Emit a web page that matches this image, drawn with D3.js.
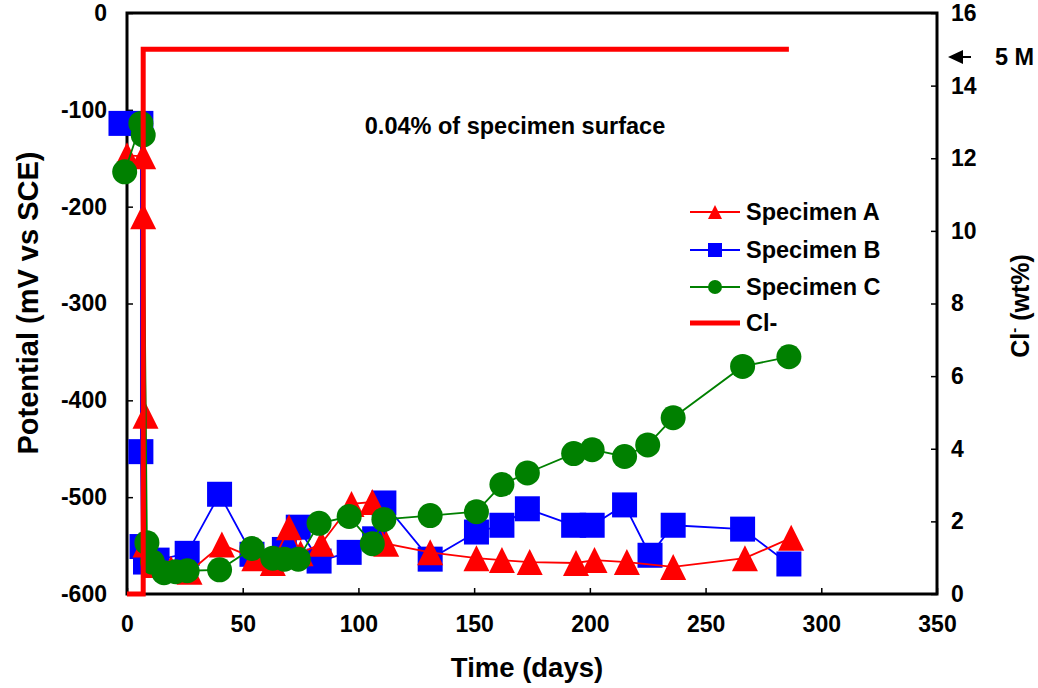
<!DOCTYPE html>
<html>
<head>
<meta charset="utf-8">
<script src="https://cdn.jsdelivr.net/npm/d3@7"></script>
<style>
  body { margin: 0; background: #fff; }
  text { font-family: "Liberation Sans", Arial, sans-serif; font-weight: bold; fill: #000; }
</style>
</head>
<body>
<svg id="chart" width="1038" height="688"></svg>
<script>
// Specimen A (red triangles)
const daysA = [0, 7, 7, 8, 8, 12, 19, 27, 41, 55, 63, 70, 75, 84, 97, 106, 112, 131, 151, 162, 174, 194, 202, 216, 236, 267, 287];
const potA = [-147, -148, -210, -416, -549, -570, -574, -577, -549, -563, -568, -531, -558, -548, -507, -505, -548, -557, -563, -565, -567, -568, -565, -567, -572, -563, -542];

// Specimen B (blue squares)
const daysB = [-2.6, 6, 6, 6.5, 8, 13, 26, 40, 54, 68, 74, 83, 96, 107, 111, 131, 151, 162, 173, 193, 201, 215, 226, 236, 266, 286];
const potB = [-114, -114, -453, -551, -567, -565, -558, -497, -559, -554, -531, -566, -557, -543, -506, -564, -536, -529, -512, -529, -529, -508, -560, -529, -533, -569];

// Specimen C (green circles)
const daysC = [-1, 6, 7, 8.6, 11, 16, 21, 26, 40, 54, 63, 68, 74, 83, 96, 106, 111, 131, 151, 162, 173, 193, 201, 215, 225, 236, 266, 286];
const potC = [-164, -114, -126, -547, -567, -578, -577, -576, -575, -553, -563, -564, -564, -527, -520, -548, -523, -519, -515, -487, -475, -455, -451, -458, -446, -418, -365, -355];

// chloride (right axis)
const clDays = [0, 7, 7, 286];
const clWt = [0, 0, 15, 15];

const xTicks = [0, 50, 100, 150, 200, 250, 300, 350];
const yLeftTicks = [-600, -500, -400, -300, -200, -100, 0];
const yRightTicks = [0, 2, 4, 6, 8, 10, 12, 14, 16];

const svg = d3.select("#chart");
const plotL = 127, plotR = 937, plotT = 13, plotB = 594;

const x = d3.scaleLinear().domain([0, 350]).range([plotL, plotR]);
const yL = d3.scaleLinear().domain([-600, 0]).range([plotB, plotT]);
const yR = d3.scaleLinear().domain([0, 16]).range([plotB, plotT]);

const plain = d => String(d); // hyphen minus, like the original

// axes, ticks pointing inward
const gx = svg.append("g")
  .attr("transform", "translate(0," + plotB + ")")
  .call(d3.axisBottom(x).tickValues(xTicks).tickFormat(plain).tickSize(-6).tickPadding(22).tickSizeOuter(0));
const gl = svg.append("g")
  .attr("transform", "translate(" + plotL + ",0)")
  .call(d3.axisLeft(yL).tickValues(yLeftTicks).tickFormat(plain).tickSize(-6).tickPadding(20).tickSizeOuter(0));
const gr = svg.append("g")
  .attr("transform", "translate(" + plotR + ",0)")
  .call(d3.axisRight(yR).tickValues(yRightTicks).tickFormat(plain).tickSize(-6).tickPadding(14).tickSizeOuter(0));

[gx, gl, gr].forEach(g => {
  g.select(".domain").remove();
  g.selectAll(".tick line").attr("stroke", "#000").attr("stroke-width", 1.5);
  g.selectAll(".tick text").attr("font-size", 23).attr("font-family", null);
});

// frame
svg.append("rect")
  .attr("x", plotL).attr("y", plotT)
  .attr("width", plotR - plotL).attr("height", plotB - plotT)
  .attr("fill", "none").attr("stroke", "#000").attr("stroke-width", 3);

// marker shapes
function marker(sel, kind, s, color) {
  if (kind === "tri") {
    sel.append("path")
      .attr("d", `M0,${-s / 2}L${s / 2},${s / 2}L${-s / 2},${s / 2}Z`)
      .attr("fill", color);
  } else if (kind === "sq") {
    sel.append("rect")
      .attr("x", -s / 2).attr("y", -s / 2).attr("width", s).attr("height", s)
      .attr("fill", color);
  } else {
    sel.append("circle").attr("r", s / 2).attr("fill", color);
  }
}

function series(days, vals, color, kind, size) {
  const pts = days.map((d, i) => [d, vals[i]]);
  const line = d3.line().x(d => x(d[0])).y(d => yL(d[1]));
  svg.append("path")
    .datum(pts)
    .attr("d", line)
    .attr("fill", "none")
    .attr("stroke", color)
    .attr("stroke-width", 1.8);
  svg.append("g").selectAll("g")
    .data(pts)
    .join("g")
    .attr("transform", d => `translate(${x(d[0])},${yL(d[1])})`)
    .each(function () { marker(d3.select(this), kind, size, color); });
}

series(daysB, potB, "#0000ff", "sq", 25);
series(daysA, potA, "#ff0000", "tri", 26);
series(daysC, potC, "#008000", "ci", 25);

// chloride line
svg.append("path")
  .datum(clDays.map((d, i) => [d, clWt[i]]))
  .attr("d", d3.line().x(d => x(d[0])).y(d => yR(d[1])))
  .attr("fill", "none")
  .attr("stroke", "#ff0000")
  .attr("stroke-width", 5);

// annotation
svg.append("text")
  .attr("x", 515).attr("y", 134)
  .attr("text-anchor", "middle")
  .attr("font-size", 23.5)
  .text("0.04% of specimen surface");

// 5 M arrow
svg.append("line")
  .attr("x1", 958).attr("y1", 57).attr("x2", 971).attr("y2", 57)
  .attr("stroke", "#000").attr("stroke-width", 2);
svg.append("path")
  .attr("d", "M948,57L963,50L963,64Z")
  .attr("fill", "#000");
svg.append("text")
  .attr("x", 995).attr("y", 65)
  .attr("font-size", 23.5)
  .text("5 M");

// legend
const legend = [
  { label: "Specimen A", color: "#ff0000", kind: "tri", y: 212 },
  { label: "Specimen B", color: "#0000ff", kind: "sq", y: 250 },
  { label: "Specimen C", color: "#008000", kind: "ci", y: 287 },
  { label: "Cl-", color: "#ff0000", kind: null, y: 323 }
];
legend.forEach(l => {
  svg.append("line")
    .attr("x1", 690).attr("x2", 740).attr("y1", l.y).attr("y2", l.y)
    .attr("stroke", l.color).attr("stroke-width", l.kind ? 1.8 : 5);
  if (l.kind) {
    const g = svg.append("g").attr("transform", `translate(715,${l.y})`);
    marker(g, l.kind, 14, l.color);
  }
  svg.append("text")
    .attr("x", 746).attr("y", l.y + 8)
    .attr("font-size", 23.5)
    .text(l.label);
});

// axis titles
svg.append("text")
  .attr("x", 527).attr("y", 677)
  .attr("text-anchor", "middle")
  .attr("font-size", 27.5)
  .text("Time (days)");

svg.append("text")
  .attr("transform", "translate(38,303) rotate(-90)")
  .attr("text-anchor", "middle")
  .attr("font-size", 29)
  .text("Potential (mV vs SCE)");

const rt = svg.append("text")
  .attr("transform", "translate(1029,306) rotate(-90)")
  .attr("text-anchor", "middle")
  .attr("font-size", 25);
rt.append("tspan").text("Cl");
rt.append("tspan").attr("font-size", 15).attr("dy", -10).text("-");
rt.append("tspan").attr("dy", 10).text(" (wt%)");
</script>
</body>
</html>
